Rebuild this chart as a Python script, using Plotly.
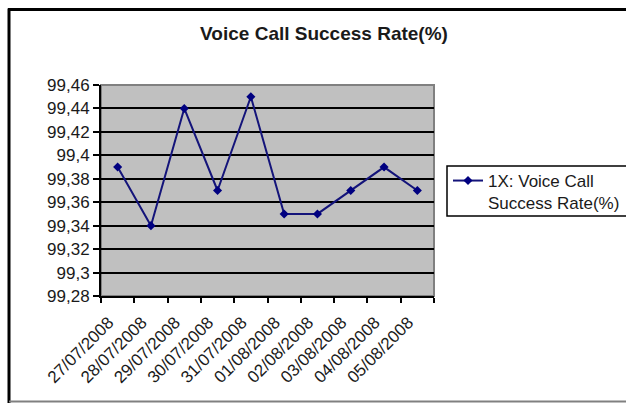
import plotly.graph_objects as go

# ---- data ----
dates = ["27/07/2008", "28/07/2008", "29/07/2008", "30/07/2008", "31/07/2008",
         "01/08/2008", "02/08/2008", "03/08/2008", "04/08/2008", "05/08/2008"]
success_rate = [99.39, 99.34, 99.44, 99.37, 99.45, 99.35, 99.35, 99.37, 99.39, 99.37]
y_tick_vals = [99.28, 99.30, 99.32, 99.34, 99.36, 99.38, 99.40, 99.42, 99.44, 99.46]
y_tick_text = ["99,28", "99,3", "99,32", "99,34", "99,36", "99,38", "99,4", "99,42", "99,44", "99,46"]
series_name = "1X: Voice Call<br>Success Rate(%)"
title_text = "Voice Call Success Rate(%)"

# ---- layout geometry (screen pixels; page body margin removed) ----
W, H = 626, 403
L, R, T, B = 101, 434, 85, 296


def px_x(p):
    return (p - L) / (R - L)


def px_y(p):
    return (B - p) / (B - T)


font_family = "Liberation Sans, Arial, sans-serif"
txt_color = "#1a1a1a"

fig = go.Figure()
fig.add_trace(go.Scatter(
    x=dates, y=success_rate, mode="lines+markers", name=series_name,
    line=dict(color="#14147a", width=2),
    marker=dict(symbol="diamond", size=7, color="#000080"),
    showlegend=True,
))

fig.update_layout(
    width=W, height=H,
    margin=dict(l=L, r=W - R, t=T, b=H - B, autoexpand=False),
    paper_bgcolor="white",
    plot_bgcolor="#c0c0c0",
    font=dict(family=font_family, color=txt_color, size=17),
    title=dict(text="<b>" + title_text + "</b>", x=324 / W, xref="container",
               xanchor="center", y=1 - 33 / H, yref="container", yanchor="middle",
               font=dict(size=19, color=txt_color)),
    showlegend=True,
    legend=dict(x=px_x(448), y=px_y(163), xanchor="left", yanchor="top",
                bgcolor="rgba(0,0,0,0)", borderwidth=0, valign="top",
                font=dict(size=17, color=txt_color)),
    xaxis=dict(type="category", tickson="boundaries", ticks="outside", ticklen=5,
               tickcolor="black", tickwidth=2, tickangle=-45, showgrid=False,
               showline=True, linecolor="black", linewidth=2, automargin=False,
               ticklabelstandoff=8, ticklabelshift=-9,
               tickfont=dict(size=17), range=[-0.5, len(dates) - 0.5]),
    yaxis=dict(range=[99.28, 99.46], tickvals=y_tick_vals, ticktext=y_tick_text,
               ticks="outside", ticklen=6, tickcolor="black", tickwidth=2,
               showgrid=True, gridcolor="black", gridwidth=2, automargin=False,
               showline=True, linecolor="black", linewidth=2, zeroline=False,
               tickfont=dict(size=17)),
    shapes=[
        # plot area border (gray)
        dict(type="rect", xref="paper", yref="paper", x0=0, x1=1, y0=0, y1=1,
             line=dict(color="#808080", width=2), layer="below"),
        # legend box
        dict(type="rect", xref="paper", yref="paper",
             x0=px_x(447), x1=px_x(660), y0=px_y(216), y1=px_y(166),
             line=dict(color="black", width=1.5), fillcolor="white", layer="below"),
        # outer chart frame
        dict(type="line", xref="paper", yref="paper",
             x0=px_x(9), x1=px_x(9), y0=px_y(410), y1=px_y(8.5),
             line=dict(color="black", width=3)),
        dict(type="line", xref="paper", yref="paper",
             x0=px_x(8), x1=px_x(640), y0=px_y(9.5), y1=px_y(9.5),
             line=dict(color="black", width=3)),
        dict(type="line", xref="paper", yref="paper",
             x0=px_x(9), x1=px_x(640), y0=px_y(401.5), y1=px_y(401.5),
             line=dict(color="#808080", width=2)),
    ],
)

fig.write_html(
    "out.html",
    config={"displayModeBar": False},
    post_script="document.body.style.margin='0';document.body.style.overflow='hidden';",
)
